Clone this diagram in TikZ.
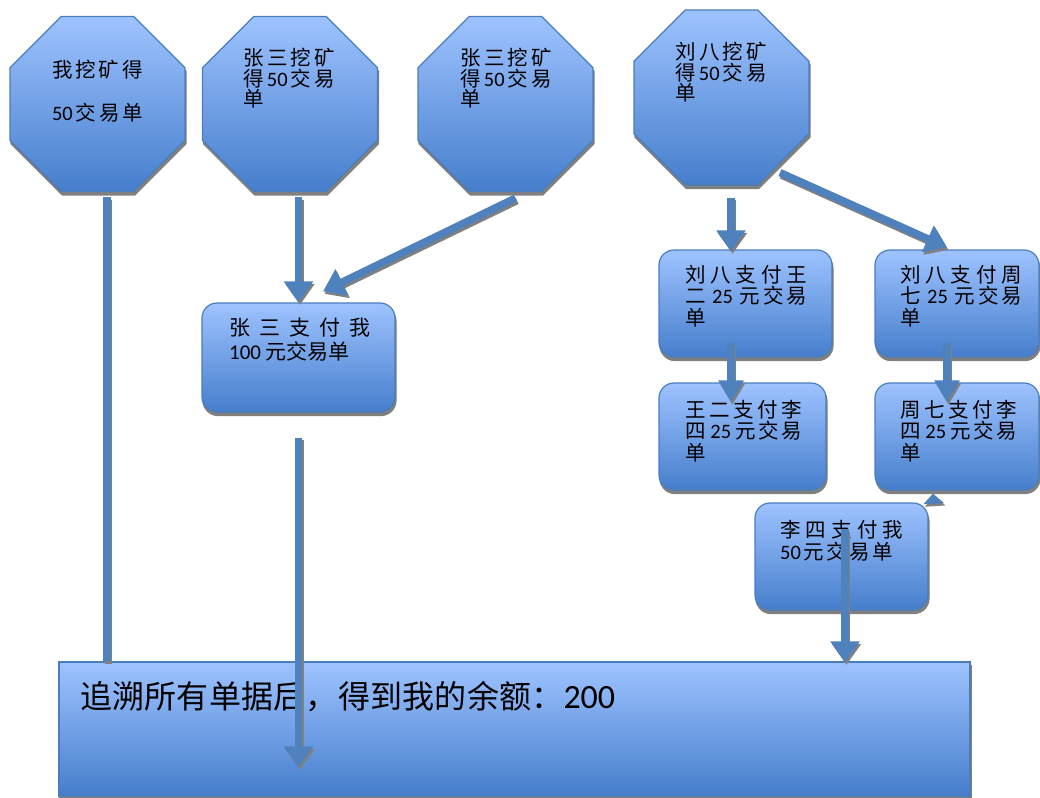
\documentclass[tikz,border=0pt]{standalone}
\usepackage{fontspec}
\setmainfont{Noto Sans CJK SC}
\newfontfamily\lat{Carlito}
\usetikzlibrary{shapes.geometric,arrows.meta,calc}
\definecolor{ctop}{RGB}{158,195,255}
\definecolor{cbot}{RGB}{70,126,204}
\definecolor{cedge}{RGB}{74,126,187}
\definecolor{cline}{RGB}{79,129,189}
\definecolor{cshad}{RGB}{128,128,128}
\newcommand\jl[2]{\makebox[#1][s]{#2}}
\newcommand\dg[1]{{\lat #1}}
\newcommand\tls{\lineskiplimit-20pt\relax}
% shaded shape with a crisp grey shadow: #1 style, #2 name, #3 position
\newcommand\shp[3]{%
  \node[#1, fill=cshad, draw=cshad] (#2-sh) at ($#3+(1,3.5)$) {};
  \node[#1, fillbox] (#2) at #3 {};}
% connector with shadow: #1 extra options, #2 start, #3 end
\newcommand\arr[3][]{%
  \draw[conn, #1, draw=cshad, transform canvas={xshift=1.5pt,yshift=-2.5pt}] #2 -- #3;
  \draw[conn, #1] #2 -- #3;}
\begin{document}
\begin{tikzpicture}[x=1pt,y=-1pt,
  fillbox/.style={top color=ctop, bottom color=cbot, draw=cedge, line width=1.2pt},
  oct/.style={regular polygon, regular polygon sides=8, minimum size=189.4pt, inner sep=0pt, line width=1.2pt},
  rbox/.style={rectangle, rounded corners=15pt, inner sep=0pt, line width=1.2pt},
  sbox/.style={rectangle, inner sep=0pt, line width=1.2pt},
  txt/.style={anchor=north west, inner sep=0pt, align=left, font={\fontsize{20.5}{20.5}\selectfont\tls}},
  conn/.style={draw=cline, line width=7.5pt},
  head/.style={-{Triangle[width=28pt,length=21pt]}},
  shead/.style={-{Triangle[width=24pt,length=22pt]}},
]
\useasboundingbox (0,0) rectangle (1040,797);

% octagons
\shp{oct}{o1}{(97.5,104)}
\shp{oct}{o2}{(290,104)}
\shp{oct}{o3}{(505.5,104)}
\shp{oct}{o4}{(721.5,97.5)}

% rounded boxes
\shp{rbox, minimum width=193pt, minimum height=109pt}{zs}{(298.5,357.5)}
\shp{rbox, minimum width=173pt, minimum height=107pt}{lw}{(745.5,303.5)}
\shp{rbox, minimum width=164pt, minimum height=107pt}{lz}{(957,303.5)}
\shp{rbox, minimum width=167pt, minimum height=107pt}{wl}{(742.5,436.5)}
\shp{rbox, minimum width=164pt, minimum height=107pt}{zl}{(957,436.5)}
\shp{rbox, minimum width=173pt, minimum height=107pt}{lm}{(841.5,556.5)}
\shp{sbox, minimum width=911pt, minimum height=134pt}{bt}{(514.5,729)}

% texts
\node[txt, anchor=north] (t1) at (97.5,60) {\jl{91pt}{我\hfill 挖\hfill 矿\hfill 得}\\[22pt]\jl{91pt}{\dg{50}\hfill 交\hfill 易\hfill 单}};
\node[txt] (t2) at (243,48) {\jl{92pt}{张\hfill 三\hfill 挖\hfill 矿}\\\jl{92pt}{得\hfill\dg{50}\hfill 交\hfill 易}\\单};
\node[txt] (t3) at (460,48) {\jl{92pt}{张\hfill 三\hfill 挖\hfill 矿}\\\jl{92pt}{得\hfill\dg{50}\hfill 交\hfill 易}\\单};
\node[txt] (t4) at (675,42) {\jl{92pt}{刘\hfill 八\hfill 挖\hfill 矿}\\\jl{92pt}{得\hfill\dg{50}\hfill 交\hfill 易}\\单};
\node[txt, font={\fontsize{21}{23.4}\selectfont\tls}] (t5) at (229,318) {\jl{141pt}{张\hfill 三\hfill 支\hfill 付\hfill 我}\\\dg{100} 元交易单};
\node[txt, font={\fontsize{20.5}{21.5}\selectfont\tls}] (t6) at (685,265) {\jl{122pt}{刘\hfill 八\hfill 支\hfill 付\hfill 王}\\\jl{122pt}{二\hfill\hfill\dg{25}\hfill\hfill 元\hfill 交\hfill 易}\\单};
\node[txt, font={\fontsize{20.5}{21.5}\selectfont\tls}] (t7) at (900,265) {\jl{122pt}{刘\hfill 八\hfill 支\hfill 付\hfill 周}\\\jl{122pt}{七\hfill\hfill\dg{25}\hfill\hfill 元\hfill 交\hfill 易}\\单};
\node[txt, font={\fontsize{20.5}{21.5}\selectfont\tls}] (t8) at (685,400) {\jl{117pt}{王\hfill 二\hfill 支\hfill 付\hfill 李}\\\jl{117pt}{四\hfill\hfill\dg{25}\hfill\hfill 元\hfill 交\hfill 易}\\单};
\node[txt, font={\fontsize{20.5}{21.5}\selectfont\tls}] (t9) at (900,400) {\jl{117pt}{周\hfill 七\hfill 支\hfill 付\hfill 李}\\\jl{117pt}{四\hfill\hfill\dg{25}\hfill\hfill 元\hfill 交\hfill 易}\\单};
\node[txt, font={\fontsize{20.5}{22}\selectfont\tls}] (t10) at (780,520) {\jl{123pt}{李\hfill 四\hfill 支\hfill 付\hfill 我}\\\jl{113pt}{\dg{50}\hfill 元\hfill 交\hfill 易\hfill 单}};
\node[txt, font={\fontsize{32}{32}\selectfont}] (t11) at (80,681) {\jl{535pt}{追\hfill 溯\hfill 所\hfill 有\hfill 单\hfill 据\hfill 后\hfill ，\hfill 得\hfill 到\hfill 我\hfill 的\hfill 余\hfill 额\hfill ：{\fontsize{34}{34}\selectfont\dg{200}}}};

% connectors
\coordinate (a1s) at ($(o1.south)+(9.5,5)$);
\coordinate (a1e) at (a1s |- bt.north);
\arr{(a1s)}{(a1e)}
\arr[head]{($(o2.south -| zs.north)+(0,5)$)}{(zs.north)}
\arr[head]{($(o3.south)+(10,6)$)}{($(zs.north)+(24.5,-11)$)}
\arr[head]{($(zs.south)+(0,25)$)}{($(zs.south |- bt.north)+(0,106)$)}
\arr[head]{($(o4.south)+(9.5,12)$)}{($(lw.north)+(-14.5,2)$)}
\arr[head]{($(o4.south)+(58.5,-13)$)}{($(lz.north)+(-10,-2)$)}
\arr[shead]{($(lw.south)+(-14.5,-15)$)}{($(wl.north)+(-11.5,20)$)}
\arr[shead]{($(lz.south)+(-10,-15)$)}{($(zl.north)+(-10,20)$)}
\arr[-{Triangle[width=20pt,length=10pt]}]{($(lm.north east)+(5,1)$)}{($(zl.south)+(-24,3)$)}
\arr[head]{($(lm.north)+(3.5,27)$)}{($(lm.north |- bt.north)+(3.5,1)$)}
\end{tikzpicture}
\end{document}
